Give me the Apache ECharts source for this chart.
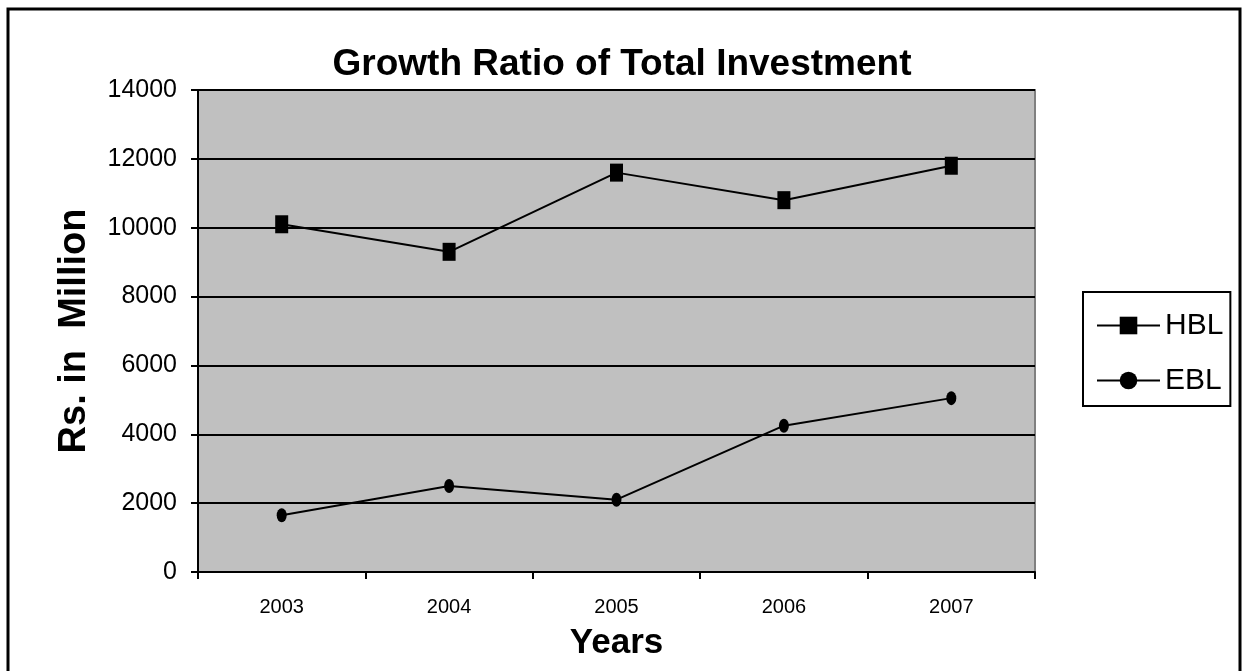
<!DOCTYPE html>
<html><head><meta charset="utf-8">
<script src="https://cdn.jsdelivr.net/npm/echarts@6/dist/echarts.min.js"></script>
<style>html,body{margin:0;padding:0;background:#fff}#c{width:1244px;height:671px}</style>
</head><body><div id="c"></div>
<script>
const categories = ['2003', '2004', '2005', '2006', '2007'];
const hblValues = [10100, 9300, 11600, 10800, 11800];
const eblValues = [1650, 2500, 2100, 4250, 5050];
const yMin = 0, yMax = 14000, yInterval = 2000;
const seriesNames = ['HBL', 'EBL'];
const titleText = 'Growth Ratio of Total Investment';
const xName = 'Years';
const yName = 'Rs. in  Million';

const ARIAL = '"Liberation Sans", Arial, sans-serif';

const chart = echarts.init(document.getElementById('c'), null, {renderer: 'canvas'});
chart.setOption({
  backgroundColor: '#fff',
  animation: false,
  title: {
    text: titleText, left: 'center', top: 41,
    textStyle: {fontFamily: ARIAL, fontWeight: 'bold', fontSize: 37, color: '#000'}
  },
  graphic: [{
    type: 'rect', shape: {x: 8, y: 9, width: 1232, height: 680},
    style: {fill: 'none', stroke: '#000', lineWidth: 3}, silent: true, z: -1
  }],
  legend: {
    orient: 'vertical', left: 1083, top: 292,
    data: seriesNames,
    itemWidth: 63, itemHeight: 22, itemGap: 20,
    padding: [16, 7, 8, 13],
    borderColor: '#000', borderWidth: 2, backgroundColor: '#fff',
    textStyle: {fontFamily: ARIAL, fontSize: 30, color: '#000', lineHeight: 35}
  },
  grid: {
    left: 198, right: 209, top: 90, bottom: 99,
    show: true, backgroundColor: '#c0c0c0', borderColor: '#808080', borderWidth: 2
  },
  xAxis: {
    type: 'category', data: categories, boundaryGap: true,
    name: xName, nameLocation: 'middle', nameGap: 54,
    nameTextStyle: {fontFamily: ARIAL, fontWeight: 'bold', fontSize: 35, color: '#000'},
    axisLine: {lineStyle: {color: '#000', width: 2}},
    axisTick: {show: true, length: 7, inside: false, lineStyle: {color: '#000', width: 2}},
    axisLabel: {fontFamily: ARIAL, fontSize: 20, color: '#000', margin: 25},
    splitLine: {show: false}
  },
  yAxis: {
    type: 'value', min: yMin, max: yMax, interval: yInterval,
    name: yName, nameLocation: 'middle', nameGap: 104, nameRotate: 90,
    nameTextStyle: {fontFamily: ARIAL, fontWeight: 'bold', fontSize: 38, color: '#000'},
    axisLine: {show: true, lineStyle: {color: '#000', width: 2}},
    axisTick: {show: true, length: 7, lineStyle: {color: '#000', width: 2}},
    axisLabel: {fontFamily: ARIAL, fontSize: 25, color: '#000', margin: 21,
      formatter: function (v) { return String(v); }},
    splitLine: {show: true, lineStyle: {color: '#000', width: 2}}
  },
  series: [{
    name: seriesNames[0], type: 'line', data: hblValues,
    symbol: 'rect', symbolSize: [13, 18],
    lineStyle: {color: '#000', width: 2}, itemStyle: {color: '#000'}, z: 3
  }, {
    name: seriesNames[1], type: 'line', data: eblValues,
    symbol: 'circle', symbolSize: [10, 14],
    lineStyle: {color: '#000', width: 2}, itemStyle: {color: '#000'}, z: 3
  }]
});
</script></body></html>
